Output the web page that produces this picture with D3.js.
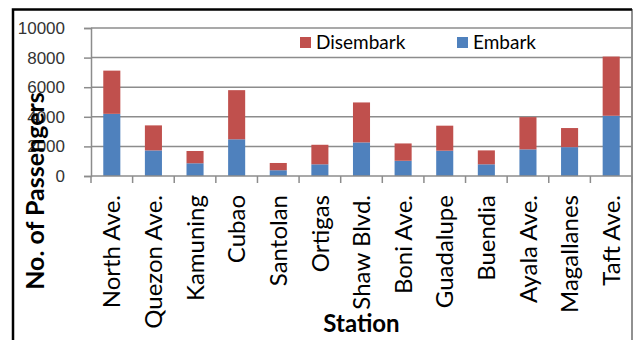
<!DOCTYPE html>
<html>
<head>
<meta charset="utf-8">
<script src="https://cdn.jsdelivr.net/npm/d3@7"></script>
<style>
  html, body { margin: 0; padding: 0; background: #fff; }
  svg { display: block; }
</style>
</head>
<body>
<svg id="chart" width="633" height="340"></svg>
<script>
// Daily passenger counts per MRT station
const stations = ["North Ave.", "Quezon Ave.", "Kamuning", "Cubao", "Santolan", "Ortigas",
  "Shaw Blvd.", "Boni Ave.", "Guadalupe", "Buendia", "Ayala Ave.", "Magallanes", "Taft Ave."];
const embark    = [4200, 1730, 860, 2480, 390, 790, 2270, 1030, 1710, 790, 1800, 1950, 4070];
const disembark = [2920, 1690, 830, 3320, 490, 1320, 2700, 1170, 1690, 940, 2180, 1290, 4000];
const yTicks = [0, 2000, 4000, 6000, 8000, 10000];
const seriesNames = ["Embark", "Disembark"];
const seriesColors = ["#4F81BD", "#C0504D"];

const svg = d3.select("#chart");
const plot = { left: 91, right: 632, top: 28, bottom: 176 };

// Outer frame (left, top and right edges)
svg.append("path")
  .attr("d", "M13,340 V9.5 H632")
  .attr("fill", "none").attr("stroke", "#000").attr("stroke-width", 2.5);
svg.append("line")
  .attr("x1", 632).attr("x2", 632).attr("y1", 9).attr("y2", 340)
  .attr("stroke", "#222").attr("stroke-width", 1);

const x = d3.scaleBand().domain(stations)
  .range([plot.left, plot.right])
  .paddingInner(0.59).paddingOuter(0.295);
const y = d3.scaleLinear().domain([0, 10000]).range([plot.bottom, plot.top]);

// Horizontal gridlines
svg.append("g").selectAll("line").data(yTicks.slice(1)).join("line")
  .attr("x1", plot.left).attr("x2", plot.right)
  .attr("y1", d => y(d)).attr("y2", d => y(d))
  .attr("stroke", "#8c8c8c").attr("stroke-width", 1.5);

// Stacked bars
const rows = stations.map((s, i) => ({ station: s, Embark: embark[i], Disembark: disembark[i] }));
const stack = d3.stack().keys(seriesNames)(rows);
svg.append("g").selectAll("g").data(stack).join("g")
  .attr("fill", (d, i) => seriesColors[i])
  .selectAll("rect").data(d => d).join("rect")
  .attr("x", d => x(d.data.station))
  .attr("width", x.bandwidth())
  .attr("y", d => y(d[1]))
  .attr("height", d => y(d[0]) - y(d[1]));

// Y axis
const yAxis = svg.append("g")
  .attr("transform", `translate(${plot.left},0)`)
  .call(d3.axisLeft(y).tickValues(yTicks).tickSize(7).tickPadding(19).tickFormat(d3.format("d")));
yAxis.select(".domain").attr("stroke", "#8c8c8c").attr("stroke-width", 1.5);
yAxis.selectAll(".tick line").attr("stroke", "#8c8c8c").attr("stroke-width", 1.5);
yAxis.selectAll(".tick text")
  .attr("font-family", "'Liberation Sans', Arial, sans-serif")
  .attr("font-size", 17).attr("fill", "#333");

// X axis baseline with tick marks at category boundaries
const step = x.step();
const bounds = d3.range(stations.length + 1).map(i => plot.left + i * step);
svg.append("line")
  .attr("x1", plot.left).attr("x2", plot.right)
  .attr("y1", plot.bottom).attr("y2", plot.bottom)
  .attr("stroke", "#8c8c8c").attr("stroke-width", 1.5);
svg.append("g").selectAll("line").data(bounds).join("line")
  .attr("x1", d => d).attr("x2", d => d)
  .attr("y1", plot.bottom).attr("y2", plot.bottom + 7)
  .attr("stroke", "#8c8c8c").attr("stroke-width", 1.5);

// Rotated station labels
svg.append("g").selectAll("text").data(stations).join("text")
  .attr("transform", d => `translate(${x(d) + x.bandwidth() / 2},195) rotate(-90)`)
  .attr("text-anchor", "end")
  .attr("dy", "0.36em")
  .attr("font-family", "Lato, sans-serif")
  .attr("font-size", 24).attr("fill", "#000")
  .text(d => d);

// Axis titles
svg.append("text")
  .attr("x", (plot.left + plot.right) / 2).attr("y", 332)
  .attr("text-anchor", "middle")
  .attr("font-family", "Lato, sans-serif").attr("font-weight", "bold")
  .attr("font-size", 24).text("Station");
svg.append("text")
  .attr("transform", "translate(44,191) rotate(-90)")
  .attr("text-anchor", "middle")
  .attr("font-family", "Lato, sans-serif").attr("font-weight", "bold")
  .attr("font-size", 25).text("No. of Passengers");

// Legend
const legendItems = [
  { name: "Disembark", color: seriesColors[1], x: 300 },
  { name: "Embark", color: seriesColors[0], x: 457 }
];
const lg = svg.append("g").selectAll("g").data(legendItems).join("g")
  .attr("transform", d => `translate(${d.x},37)`);
lg.append("rect").attr("width", 11).attr("height", 11).attr("fill", d => d.color);
lg.append("text")
  .attr("x", 16).attr("y", 5.5).attr("dy", "0.36em")
  .attr("font-family", "Lato, sans-serif").attr("font-size", 19)
  .text(d => d.name);
</script>
</body>
</html>
